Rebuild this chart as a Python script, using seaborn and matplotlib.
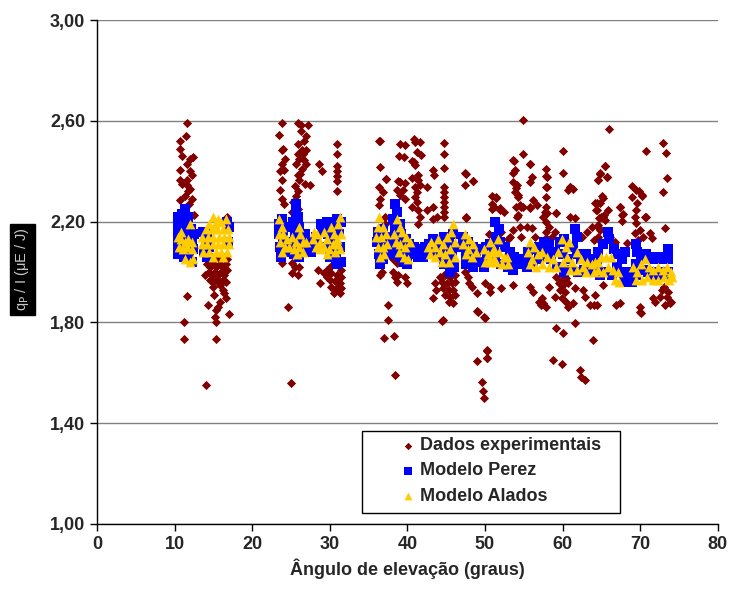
import numpy as np
import pandas as pd
import matplotlib
matplotlib.use("Agg")
import matplotlib.pyplot as plt
from matplotlib.patches import Rectangle
from matplotlib.ticker import FuncFormatter, MultipleLocator
import seaborn as sns

# Dados experimentais (angulo de elevacao, qp/I)
dados_exp = [
    # ~11 graus
    (11.56, 2.59), (11.5, 2.54), (10.65, 2.52), (10.65, 2.49), (10.95, 2.46), (12.0, 2.45),
    (12.35, 2.455), (11.56, 2.43), (10.7, 2.405), (12.0, 2.40), (12.2, 2.385), (10.7, 2.365),
    (11.56, 2.365), (11.56, 2.345), (12.0, 2.33), (11.8, 2.32), (10.7, 2.285), (12.2, 2.29),
    (12.5, 2.225), (11.0, 2.35), (11.3, 2.30), (11.9, 2.27), (11.6, 1.905), (11.2, 1.80), (11.2, 1.735),
    # ~15 graus
    (16.7, 2.22), (16.5, 2.20),
    (14.4, 2.05), (14.8, 2.06), (15.2, 2.05), (15.6, 2.06), (16.0, 2.05), (16.4, 2.06), (16.8, 2.05),
    (14.2, 2.03), (14.6, 2.02), (15.0, 2.03), (15.4, 2.02), (15.8, 2.03), (16.2, 2.02), (16.6, 2.03),
    (14.4, 2.00), (14.8, 1.99), (15.2, 2.00), (15.6, 1.99), (16.0, 2.00), (16.4, 1.99), (16.8, 2.01),
    (13.9, 1.99), (14.6, 1.97), (15.0, 1.96), (15.4, 1.97), (15.8, 1.96), (16.2, 1.97), (16.6, 1.96),
    (14.9, 1.94), (15.9, 1.95), (16.4, 1.915), (16.6, 1.895), (15.85, 1.88), (15.6, 1.86),
    (14.35, 1.87), (15.4, 1.85), (15.2, 1.82), (17.0, 1.835), (15.3, 1.80), (15.4, 1.735),
    (14.05, 1.55), (16.2, 1.93), (15.1, 1.91),
    # ~24-31 graus
    (23.8, 2.59), (23.5, 2.545), (23.8, 2.485), (24.2, 2.45), (23.6, 2.40), (24.1, 2.405),
    (23.8, 2.365), (23.6, 2.325), (23.8, 2.29), (24.1, 2.27), (24.0, 2.49), (23.9, 2.43),
    (25.9, 2.59), (26.3, 2.585), (27.2, 2.585), (26.3, 2.56), (27.0, 2.54), (25.9, 2.51),
    (26.7, 2.52), (25.9, 2.47), (26.4, 2.485), (27.0, 2.485), (26.1, 2.45), (26.7, 2.445),
    (27.0, 2.43), (25.7, 2.43), (26.4, 2.41), (25.9, 2.385), (26.1, 2.365), (26.8, 2.35),
    (27.4, 2.345), (25.5, 2.34), (25.9, 2.32), (25.7, 2.30), (25.3, 2.28), (25.5, 2.26),
    (25.9, 2.25), (25.1, 2.24), (26.2, 2.39), (26.5, 2.47),
    (28.6, 2.43), (29.0, 2.40),
    (30.9, 2.51), (30.9, 2.47), (30.9, 2.42), (30.9, 2.40), (30.9, 2.38), (30.9, 2.36), (30.9, 2.32),
    (23.8, 2.035), (25.1, 2.035), (25.5, 2.02), (26.0, 2.02), (25.1, 1.995), (25.9, 1.99),
    (24.6, 1.86), (25.0, 1.56),
    (28.7, 1.955), (28.5, 2.01), (29.2, 1.995), (29.6, 2.01), (30.0, 2.02), (30.7, 2.03),
    (31.3, 2.035), (31.5, 2.01), (30.2, 1.995), (30.9, 1.99), (31.5, 1.98), (30.0, 1.97),
    (30.7, 1.965), (31.3, 1.955), (30.2, 1.94), (30.9, 1.935), (31.5, 1.935), (30.5, 1.915),
    (31.3, 1.915), (29.6, 1.98), (31.1, 1.975),
    # ~36-50 graus
    (36.5, 2.52), (36.3, 2.52), (39.0, 2.51), (39.7, 2.505), (40.8, 2.53), (41.0, 2.518),
    (41.6, 2.518), (44.7, 2.511), (41.2, 2.478), (41.8, 2.464), (39.6, 2.458), (44.7, 2.467),
    (40.8, 2.438), (41.0, 2.425), (36.5, 2.418), (44.7, 2.412), (43.3, 2.405), (43.4, 2.385),
    (37.3, 2.368), (39.0, 2.359), (39.7, 2.352), (40.6, 2.372), (41.4, 2.385), (41.4, 2.365),
    (41.6, 2.345), (42.5, 2.339), (47.4, 2.392), (47.4, 2.345), (48.5, 2.362), (36.3, 2.339),
    (36.9, 2.319), (36.5, 2.292), (36.3, 2.266), (38.6, 2.325), (39.5, 2.325), (39.0, 2.305),
    (39.7, 2.292), (41.0, 2.299), (41.2, 2.279), (40.6, 2.259), (41.4, 2.246), (41.6, 2.22),
    (42.5, 2.246), (43.3, 2.259), (43.8, 2.22), (44.7, 2.339), (44.7, 2.319), (44.7, 2.299),
    (44.7, 2.279), (44.7, 2.259), (44.7, 2.24), (44.7, 2.22), (47.6, 2.213), (37.1, 2.22),
    (41.0, 2.339), (41.2, 2.319), (38.9, 2.46), (40.6, 2.44), (37.3, 2.37), (38.8, 2.36),
    (47.5, 2.389), (48.4, 2.361), (47.6, 2.217), (41.4, 2.19), (43.3, 2.21), (37.1, 2.19),
    (36.7, 2.00), (36.5, 1.99), (38.2, 2.05), (38.6, 2.035), (38.2, 2.00), (38.8, 1.99),
    (38.4, 1.98), (38.6, 1.96), (39.7, 1.98), (39.9, 1.955), (43.5, 1.955), (43.7, 1.93),
    (43.3, 1.895), (44.2, 1.98), (44.8, 1.987), (45.5, 1.98), (46.1, 1.987), (44.4, 1.96),
    (45.1, 1.955), (45.7, 1.955), (46.1, 1.96), (44.6, 1.936), (45.3, 1.93), (45.9, 1.93),
    (44.8, 1.91), (45.5, 1.902), (46.1, 1.91), (45.3, 1.882), (45.9, 1.876), (44.7, 1.99),
    (44.6, 1.81), (47.4, 2.00), (47.8, 1.98), (48.0, 1.955), (48.3, 1.94), (49.0, 1.915),
    (49.0, 1.845), (49.9, 1.82), (37.5, 1.87), (37.5, 1.81), (37.0, 1.74), (38.3, 1.745),
    (38.4, 1.59), (44.5, 1.807), (49.1, 1.84), (50.0, 1.816), (50.3, 1.688), (49.0, 1.647),
    (50.3, 1.66), (49.6, 1.565), (49.8, 1.529), (49.9, 1.501),
    # ~50-66 graus
    (54.85, 2.603), (54.85, 2.467), (53.6, 2.444), (55.8, 2.431), (60.0, 2.481), (53.9, 2.405),
    (53.6, 2.392), (56.0, 2.378), (55.8, 2.358), (57.9, 2.411), (57.9, 2.381), (60.1, 2.392),
    (57.9, 2.339), (60.9, 2.339), (60.7, 2.325), (53.6, 2.358), (54.1, 2.345), (53.9, 2.319),
    (54.3, 2.299), (51.4, 2.296), (51.1, 2.259), (51.9, 2.253), (52.4, 2.24), (54.5, 2.266),
    (54.9, 2.259), (56.2, 2.286), (56.7, 2.266), (55.8, 2.253), (54.1, 2.22), (57.9, 2.299),
    (57.9, 2.259), (57.7, 2.24), (57.5, 2.22), (57.9, 2.20), (58.2, 2.18), (59.2, 2.233),
    (60.9, 2.217), (61.6, 2.213), (64.8, 2.273), (64.4, 2.246), (65.2, 2.22), (64.6, 2.18),
    (54.5, 2.18), (53.6, 2.167), (55.4, 2.18), (56.0, 2.174), (53.2, 2.141), (57.9, 2.161),
    (57.9, 2.134), (50.9, 2.30), (50.9, 2.27), (50.9, 2.25), (53.7, 2.44), (55.8, 2.43),
    (60.95, 2.336), (61.3, 2.33), (65.4, 2.42), (64.8, 2.39), (64.6, 2.365), (65.7, 2.378),
    (65.1, 2.30), (64.4, 2.273), (54.0, 2.332), (54.3, 2.306), (54.0, 2.259), (54.2, 2.226),
    (51.4, 2.297), (51.9, 2.246), (54.7, 2.259), (55.8, 2.259), (58.0, 2.339), (58.0, 2.378),
    (58.0, 2.233), (59.2, 2.235), (64.7, 2.213), (65.3, 2.226),
    (50.5, 2.15), (52.0, 2.16), (53.0, 2.13), (54.6, 2.14), (56.5, 2.14), (58.6, 2.14),
    (59.0, 2.16), (62.5, 2.14), (63.2, 2.16), (63.8, 2.18), (64.6, 2.14), (65.0, 2.12),
    (50.0, 1.955), (50.6, 1.942), (50.6, 1.922), (52.1, 1.936), (53.6, 1.949), (55.8, 1.942),
    (56.2, 1.922), (57.3, 1.896), (57.5, 1.876), (57.9, 1.862), (59.2, 1.98), (59.9, 1.968),
    (60.5, 1.975), (59.5, 1.955), (60.1, 1.949), (60.7, 1.955), (59.7, 1.929), (60.3, 1.922),
    (59.9, 1.896), (60.5, 1.882), (60.7, 1.862), (59.0, 1.902), (58.3, 1.942), (61.6, 1.936),
    (62.6, 1.929), (63.5, 1.869), (64.4, 1.869), (62.9, 1.902), (61.4, 1.876), (61.6, 1.796),
    (59.2, 1.776), (60.1, 1.757), (63.9, 1.73), (50.2, 1.69), (50.2, 1.657), (58.8, 1.65),
    (59.9, 1.635), (62.2, 1.61), (62.4, 1.585), (62.9, 1.57), (57.2, 1.87), (57.0, 1.88),
    # ~64-74 graus
    (66.0, 2.567), (72.9, 2.511), (73.3, 2.474), (70.7, 2.48), (65.5, 2.42), (64.8, 2.393),
    (65.7, 2.378), (64.6, 2.365), (73.4, 2.374), (69.0, 2.34), (69.5, 2.325), (70.2, 2.306),
    (69.0, 2.299), (72.9, 2.319), (65.2, 2.296), (64.2, 2.276), (64.3, 2.246), (65.9, 2.246),
    (67.4, 2.259), (67.6, 2.226), (67.6, 2.204), (65.0, 2.22), (65.5, 2.206), (64.6, 2.186),
    (64.8, 2.167), (69.6, 2.273), (69.5, 2.246), (69.3, 2.22), (70.6, 2.22), (69.5, 2.193),
    (70.0, 2.167), (70.4, 2.141), (71.3, 2.154), (71.5, 2.134), (73.2, 2.174), (64.0, 2.128),
    (69.3, 2.154), (69.7, 2.128), (66.1, 2.14), (66.8, 2.12), (68.3, 2.114), (67.4, 2.26),
    (67.8, 2.23), (69.9, 2.32), (70.2, 2.30), (70.75, 2.22),
    (64.2, 1.909), (64.0, 1.869), (66.9, 1.869), (67.4, 1.876), (70.0, 1.862), (70.1, 1.836),
    (71.7, 1.896), (71.9, 1.882), (72.8, 1.929), (73.6, 1.922), (73.4, 1.902), (73.8, 1.876),
    (74.0, 1.882), (73.2, 1.869), (72.6, 1.902), (73.0, 1.942), (65.2, 1.949), (70.0, 1.84),
]

# Modelo Perez
modelo_perez = [
    (10.5, 2.22), (11.0, 2.23), (11.4, 2.25), (11.8, 2.22), (10.4, 2.18), (10.9, 2.19), (11.5, 2.19),
    (12.1, 2.17), (12.5, 2.15), (10.4, 2.14), (11.0, 2.15), (11.6, 2.14), (12.2, 2.12), (10.4, 2.10),
    (11.0, 2.11), (11.7, 2.09), (12.4, 2.09), (10.5, 2.07), (11.2, 2.06), (11.9, 2.05), (12.3, 2.04),
    (10.8, 2.08),
    (13.7, 2.16), (14.2, 2.15), (14.0, 2.12), (14.4, 2.10), (13.8, 2.08), (16.7, 2.20), (17.0, 2.18),
    (16.9, 2.12), (14.2, 2.06),
    (23.5, 2.19), (23.8, 2.21), (24.2, 2.18), (23.5, 2.15), (24.0, 2.14), (24.5, 2.12), (23.6, 2.10),
    (24.1, 2.08), (23.7, 2.06), (25.7, 2.27), (25.6, 2.24), (25.9, 2.22), (25.3, 2.20), (26.0, 2.18),
    (25.5, 2.16), (26.2, 2.14), (25.0, 2.12), (25.8, 2.10), (26.4, 2.08), (26.0, 2.06), (25.4, 2.07),
    (26.9, 2.12), (27.3, 2.10), (27.7, 2.12), (27.1, 2.08), (27.6, 2.08), (28.0, 2.10), (26.8, 2.15),
    (28.2, 2.14), (28.9, 2.19), (29.0, 2.16),
    (29.6, 2.20), (30.2, 2.18), (30.9, 2.21), (31.4, 2.20), (29.8, 2.15), (30.5, 2.14), (31.2, 2.15),
    (29.7, 2.10), (30.4, 2.09), (31.3, 2.10), (30.0, 2.06), (30.8, 2.05), (31.4, 2.04), (30.9, 2.03),
    (36.2, 2.16), (36.8, 2.17), (37.3, 2.14), (36.1, 2.12), (36.7, 2.10), (37.4, 2.11), (36.3, 2.07),
    (36.9, 2.05), (37.5, 2.07), (36.5, 2.03),
    (38.4, 2.27), (38.6, 2.24), (38.2, 2.21), (39.0, 2.19), (38.4, 2.17), (39.2, 2.15), (39.8, 2.13),
    (38.1, 2.14), (38.7, 2.11), (39.5, 2.10), (40.2, 2.11), (40.8, 2.10), (38.3, 2.07), (39.0, 2.06),
    (39.6, 2.04), (40.4, 2.07), (41.1, 2.08), (41.7, 2.09), (42.3, 2.10), (40.0, 2.03), (41.4, 2.06),
    (42.0, 2.06),
    (42.8, 2.11), (43.3, 2.13), (44.0, 2.12), (44.7, 2.14), (45.3, 2.12), (45.9, 2.15), (43.0, 2.08),
    (43.7, 2.08), (44.4, 2.06), (45.1, 2.08), (45.8, 2.06), (46.2, 2.10), (44.7, 2.03), (45.5, 2.00),
    (46.0, 2.02),
    (47.2, 2.14), (47.8, 2.12), (48.4, 2.10), (47.1, 2.10), (47.5, 2.07), (48.1, 2.06), (48.8, 2.08),
    (47.6, 2.03), (48.5, 2.02), (49.2, 2.04), (49.6, 2.09), (50.1, 2.10), (50.6, 2.08), (50.2, 2.05),
    (50.9, 2.04), (49.9, 2.02),
    (51.3, 2.20), (51.8, 2.17), (51.4, 2.14), (50.6, 2.11), (51.2, 2.10), (51.9, 2.12), (52.6, 2.10),
    (53.2, 2.08), (53.8, 2.06), (50.5, 2.06), (51.3, 2.05), (52.1, 2.03), (52.9, 2.02), (53.6, 2.01),
    (54.3, 2.03), (55.0, 2.05), (55.6, 2.08), (56.3, 2.09), (57.0, 2.10), (57.6, 2.12), (58.3, 2.11),
    (55.4, 2.02), (56.2, 2.04), (57.0, 2.05), (57.8, 2.07), (58.5, 2.05), (59.0, 2.08), (59.6, 2.12),
    (60.2, 2.13), (61.6, 2.17), (61.8, 2.14), (60.0, 2.07), (60.7, 2.05), (61.3, 2.10), (61.8, 2.07),
    (62.4, 2.05), (63.0, 2.07), (63.6, 2.05), (64.2, 2.04), (59.3, 2.02), (60.2, 2.00), (61.0, 2.01),
    (62.0, 2.00), (62.8, 2.01), (63.5, 2.00), (64.4, 2.02),
    (64.6, 2.08), (65.2, 2.11), (65.8, 2.16), (66.0, 2.13), (66.6, 2.09), (67.1, 2.07), (67.6, 2.05),
    (68.1, 2.08), (67.0, 2.02), (67.6, 2.00), (68.3, 1.98), (68.9, 1.96), (67.9, 1.96), (68.8, 2.00),
    (69.4, 2.03), (69.6, 2.08), (69.5, 2.11), (70.1, 2.05), (70.8, 2.07), (71.3, 2.05), (71.9, 2.06),
    (72.5, 2.05), (73.1, 2.06), (73.6, 2.09), (73.6, 2.05), (70.4, 2.01), (71.0, 2.00), (71.7, 1.99),
    (72.4, 2.00), (73.0, 1.99), (73.6, 2.00), (69.5, 1.99), (64.8, 1.99), (65.6, 2.00), (66.4, 1.99),
]

# Modelo Alados
modelo_alados = [
    (12.0, 2.19), (10.5, 2.14), (10.9, 2.13), (11.4, 2.12), (11.8, 2.13), (12.3, 2.12), (10.6, 2.10),
    (11.1, 2.09), (11.6, 2.10), (12.2, 2.09), (11.3, 2.05), (12.0, 2.04), (12.4, 2.05), (10.9, 2.16),
    (15.0, 2.22), (15.6, 2.21), (14.5, 2.19), (15.2, 2.19), (16.0, 2.20), (16.6, 2.21), (14.0, 2.17),
    (14.8, 2.17), (15.5, 2.17), (16.2, 2.17), (16.9, 2.17), (13.6, 2.14), (14.3, 2.14), (15.0, 2.14),
    (15.7, 2.14), (16.4, 2.14), (17.0, 2.14), (13.5, 2.11), (14.2, 2.11), (14.9, 2.11), (15.6, 2.11),
    (16.3, 2.11), (17.0, 2.11), (13.7, 2.08), (14.5, 2.08), (15.3, 2.08), (16.0, 2.08), (16.7, 2.08),
    (14.9, 2.06), (16.2, 2.06),
    (23.5, 2.21), (23.9, 2.18), (23.4, 2.15), (24.0, 2.15), (24.5, 2.13), (23.6, 2.12), (24.2, 2.10),
    (23.8, 2.08), (24.8, 2.10), (25.2, 2.14), (25.6, 2.12), (26.0, 2.18), (26.2, 2.15), (25.4, 2.09),
    (26.0, 2.10), (26.5, 2.12), (25.8, 2.07), (26.6, 2.08), (27.0, 2.12),
    (27.9, 2.13), (28.4, 2.15), (28.8, 2.12), (29.2, 2.16), (29.7, 2.13), (30.1, 2.18), (30.5, 2.15),
    (31.0, 2.19), (31.3, 2.22), (28.2, 2.10), (28.7, 2.09), (29.3, 2.10), (29.9, 2.09), (30.4, 2.11),
    (30.9, 2.13), (31.4, 2.15), (29.6, 2.07), (30.7, 2.08), (31.3, 2.09), (31.0, 2.11), (28.0, 2.16),
    (36.4, 2.22), (36.2, 2.18), (36.8, 2.18), (36.0, 2.14), (36.6, 2.14), (37.2, 2.15), (36.2, 2.10),
    (36.8, 2.10), (37.4, 2.11), (36.5, 2.06), (37.0, 2.07),
    (38.6, 2.21), (39.0, 2.18), (38.3, 2.15), (39.3, 2.16), (39.8, 2.14), (38.5, 2.12), (39.1, 2.11),
    (39.7, 2.10), (40.3, 2.12), (38.9, 2.08), (39.6, 2.06), (40.1, 2.05),
    (42.6, 2.10), (43.1, 2.12), (43.6, 2.10), (44.0, 2.13), (44.6, 2.11), (45.1, 2.14), (45.6, 2.16),
    (45.9, 2.19), (46.2, 2.12), (42.9, 2.07), (43.5, 2.06), (44.2, 2.08), (44.9, 2.07), (45.5, 2.09),
    (46.1, 2.06), (44.5, 2.04), (45.3, 2.04),
    (47.4, 2.15), (48.0, 2.13), (47.2, 2.11), (47.8, 2.09), (48.4, 2.11), (48.9, 2.08), (47.5, 2.07),
    (48.3, 2.06), (49.9, 2.09), (50.4, 2.07), (50.9, 2.08), (50.0, 2.04), (50.7, 2.04), (51.2, 2.05),
    (50.6, 2.12), (51.7, 2.13), (51.1, 2.09), (51.8, 2.08), (52.4, 2.06), (50.5, 2.05), (51.4, 2.04),
    (52.2, 2.03), (53.0, 2.03), (52.8, 2.06),
    (55.8, 2.12), (56.3, 2.10), (55.6, 2.08), (56.1, 2.05), (56.8, 2.07), (57.4, 2.08), (58.0, 2.06),
    (55.8, 2.03), (56.6, 2.02), (57.4, 2.03), (58.2, 2.02), (58.8, 2.05), (59.4, 2.08), (59.9, 2.13),
    (60.4, 2.10), (60.8, 2.12), (59.2, 2.02), (60.0, 2.04), (60.6, 2.06), (61.2, 2.04), (61.8, 2.08),
    (62.4, 2.05), (61.0, 2.01), (61.8, 2.01), (62.6, 2.02), (63.2, 2.04), (63.8, 2.03), (64.6, 2.04),
    (63.0, 2.00), (64.0, 2.00),
    (64.2, 2.04), (64.9, 2.06), (65.6, 2.06), (66.2, 2.06), (64.6, 2.01), (65.2, 2.00), (65.9, 2.02),
    (66.5, 2.01), (67.1, 2.00), (67.3, 1.96), (66.7, 1.97), (69.1, 2.02), (69.6, 2.00), (70.1, 2.03),
    (70.6, 2.05), (71.1, 2.02), (71.7, 2.01), (72.3, 2.02), (72.9, 2.01), (73.5, 2.02), (74.0, 2.00),
    (69.5, 1.97), (70.2, 1.97), (70.9, 1.98), (71.6, 1.97), (72.3, 1.97), (73.0, 1.98), (73.7, 1.97),
    (74.1, 1.98),
]

x_ticks = [0, 10, 20, 30, 40, 50, 60, 70, 80]
y_ticks = [1.0, 1.4, 1.8, 2.2, 2.6, 3.0]

df_exp = pd.DataFrame(dados_exp, columns=["angulo", "qp"])
df_perez = pd.DataFrame(modelo_perez, columns=["angulo", "qp"])
df_alados = pd.DataFrame(modelo_alados, columns=["angulo", "qp"])

sns.set_style("white")
plt.rcParams["font.family"] = ["Liberation Sans", "DejaVu Sans"]

fig, ax = plt.subplots(figsize=(7.34, 5.94), dpi=100)
fig.subplots_adjust(left=0.132, right=0.978, top=0.966, bottom=0.118)

sns.scatterplot(data=df_exp, x="angulo", y="qp", marker="D", s=22, color="#800000",
                linewidth=0, ax=ax, label="Dados experimentais", zorder=3)
sns.scatterplot(data=df_perez, x="angulo", y="qp", marker="s", s=42, color="#0000FF",
                linewidth=0, ax=ax, label="Modelo Perez", zorder=4)
sns.scatterplot(data=df_alados, x="angulo", y="qp", marker="^", s=50, color="#FFCC00",
                linewidth=0, ax=ax, label="Modelo Alados", zorder=5)

ax.set_xlim(0, 80)
ax.set_ylim(1.0, 3.0)
ax.set_xticks(x_ticks)
ax.set_yticks(y_ticks)
ax.yaxis.set_major_formatter(FuncFormatter(lambda v, p: f"{v:.2f}".replace(".", ",")))
ax.set_axisbelow(True)
ax.grid(axis="y", color="#808080", linewidth=1)
ax.grid(axis="x", visible=False)
for side in ["top", "right"]:
    ax.spines[side].set_visible(False)
for side in ["left", "bottom"]:
    ax.spines[side].set_color("black")
    ax.spines[side].set_linewidth(1)
ax.tick_params(axis="both", direction="out", length=5, width=1, color="black",
               labelsize=13, left=True, bottom=True)
for lab in ax.get_xticklabels() + ax.get_yticklabels():
    lab.set_fontweight("bold")

ax.set_xlabel("Ângulo de elevação (graus)", fontsize=13, fontweight="bold")
ax.set_ylabel("q$_{\\rm P}$ / I (μE / J)", fontsize=10.5, color="#c8c8c8",
              bbox=dict(facecolor="black", edgecolor="black", pad=2.5))
ax.yaxis.set_label_coords(-0.106, 0.505)

ax.legend(loc="upper left", bbox_to_anchor=(0.4895, 0.172), frameon=False,
          prop={"weight": "bold", "size": 13}, borderpad=0, borderaxespad=0,
          handlelength=0.8, handletextpad=0.25, labelspacing=0.45, markerscale=0.8)
ax.add_patch(Rectangle((0.4267, 0.0218), 0.4155, 0.1627, transform=ax.transAxes,
                       fill=False, edgecolor="black", linewidth=1, zorder=6))

fig.savefig("out.png", dpi=100)
